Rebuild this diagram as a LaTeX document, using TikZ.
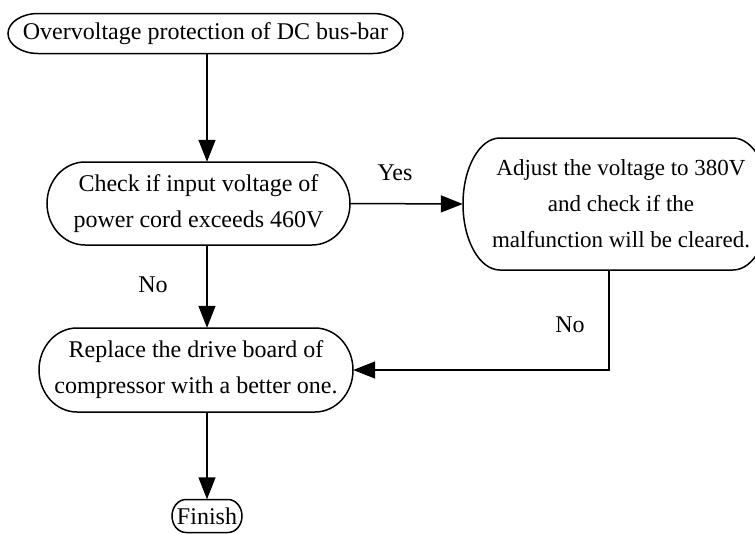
\documentclass[tikz,border=0pt]{standalone}
\usepackage{fontspec}
\setmainfont{Liberation Serif}
\usetikzlibrary{arrows.meta}
\tikzset{
  box/.style={draw=none, inner sep=0pt, align=center, font=\fontsize{24}{36}\selectfont},
  lbl/.style={inner sep=0pt, font=\fontsize{24}{28}\selectfont},
  outl/.style={line width=1.5pt},
  arr/.style={line width=1.5pt, -{Triangle[length=22pt,width=17pt]}},
  link/.style={line width=1.5pt}
}
% #1 x1, #2 y1, #3 x2, #4 y2, #5 rx, #6 ry
\newcommand\stadshape[6]{%
  \draw[outl] ({#1+#5},#2) -- ({#3-#5},#2)
    arc[start angle=90,end angle=-90,x radius=#5pt,y radius=#6pt]
    -- ({#1+#5},#4)
    arc[start angle=-90,end angle=-270,x radius=#5pt,y radius=#6pt] -- cycle;}
\begin{document}
\begin{tikzpicture}[x=1pt,y=-1pt]
\useasboundingbox[fill=white] (0,0) rectangle (755,533);
% nodes
\node[box, minimum width=395pt, minimum height=40pt] (n1) at (205.5,33.5) {Overvoltage protection of DC bus-bar};
\stadshape{8}{13.5}{403}{53.5}{30}{20}
\node[box, minimum width=303pt, minimum height=83pt] (n2) at (198.5,203.5) {Check if input voltage of\\power cord exceeds 460V};
\stadshape{47}{162}{350}{245}{38}{41.5}
\node[box, minimum width=316pt, minimum height=132pt, font=\fontsize{23}{36}\selectfont] (n3) at (621,204) {Adjust the voltage to 380V\\and check if the\\malfunction will be cleared.};
\stadshape{463}{138}{770}{270}{37}{66}
\node[box, minimum width=314pt, minimum height=84pt] (n4) at (196,370) {Replace the drive board of\\compressor with a better one.};
\stadshape{39}{328}{353}{412}{38}{42}
\node[box, minimum width=70pt, minimum height=33pt] (fin) at (207,516) {Finish};
\stadshape{172}{499.5}{242}{532.5}{14}{16.5}
% labels
\node[lbl] (yes) at (395,173) {Yes};
\node[lbl] (no1) at (153,285) {No};
\node[lbl] (no2) at (570,325) {No};
% connectors
\draw[arr] (n1.south -| fin) -- (n2.north -| fin);
\draw[arr] (n2.east) -- (n3.west);
\draw[arr] (n2.south -| fin) -- (n4.north -| fin);
\draw[arr] ([xshift=-12pt]n3.south) |- (n4.east);
\draw[arr] (n4.south -| fin) -- (fin.north);
\end{tikzpicture}
\end{document}
